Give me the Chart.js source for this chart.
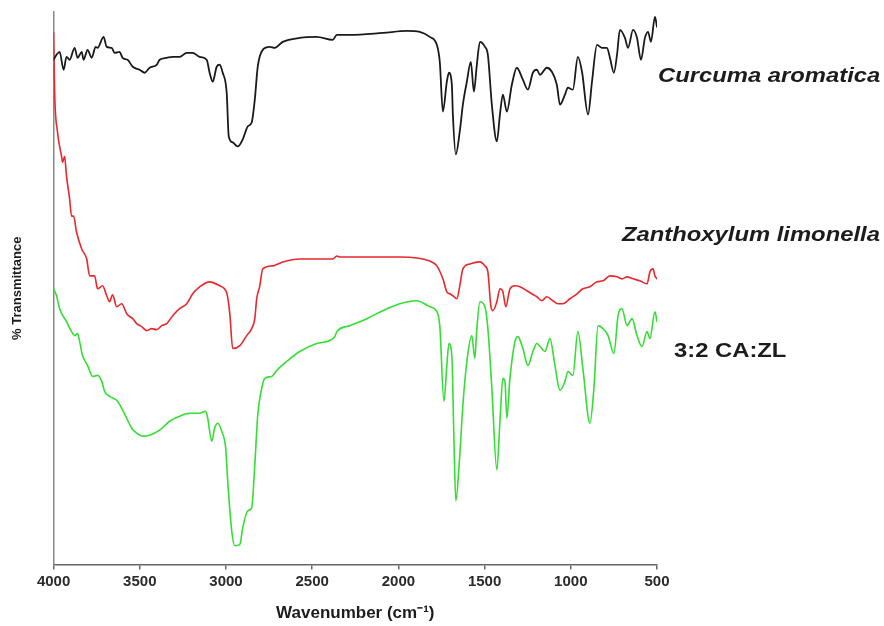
<!DOCTYPE html>
<html>
<head>
<meta charset="utf-8">
<title>FTIR spectra</title>
<script src="https://cdn.jsdelivr.net/npm/chart.js@4.4.1/dist/chart.umd.min.js"></script>
<style>
  html, body { margin: 0; padding: 0; background: #fff; }
  #wrap { width: 884px; height: 626px; }
</style>
</head>
<body>
<div id="wrap"><canvas id="ftirChart" width="884" height="626"></canvas></div>
<script>
// Datos (unidades arbitrarias de % transmitancia, curvas desplazadas)

// Curcuma aromatica
const caWavenumber = [4000,3983,3965,3942,3925,3907,3878,3861,3837,3826,3803,3779,3756,3745,3710,3692,3663,3646,3617,3600,
    3571,3541,3501,3472,3443,3402,3385,3344,3309,3269,3228,3193,3153,3112,3095,3077,3054,3037,3019,2996,
    2984,2961,2932,2903,2874,2851,2833,2816,2787,2746,2717,2671,2572,2474,2381,2357,2282,2090,1951,1876,
    1818,1777,1760,1742,1719,1707,1690,1684,1667,1644,1626,1603,1580,1562,1545,1527,1498,1481,1458,1429,
    1411,1394,1371,1342,1313,1278,1249,1220,1197,1179,1139,1110,1081,1063,1034,1017,988,959,935,900,
    877,848,819,790,773,750,732,715,686,668,639,616,593,570,552,535,512,500];
const caValue = [507,512,515,497,510,507,519,509,515,507,517,509,520,519,530,520,519,514,515,509,
    507,500,497,494,499,502,507,509,510,510,514,514,510,507,494,485,500,502,494,474,
    430,424,420,427,440,444,467,500,517,520,519,525,529,530,527,532,532,534,536,535,
    530,522,505,455,485,494,482,452,412,435,462,485,505,475,502,525,520,512,462,425,
    452,472,455,482,499,487,477,494,497,492,499,495,482,462,472,479,477,510,495,452,
    485,522,519,519,509,494,512,537,529,519,537,529,507,529,535,525,550,540];

// Zanthoxylum limonella
const zlWavenumber = [4000,3994,3977,3954,3948,3936,3925,3907,3896,3884,3867,3837,3808,3791,3762,3745,3716,3692,3675,3658,
    3634,3605,3576,3541,3518,3489,3460,3431,3402,3373,3344,3309,3269,3228,3193,3153,3095,3037,2996,2978,
    2961,2920,2880,2851,2833,2822,2804,2787,2729,2671,2572,2474,2381,2357,2340,2183,1992,1818,1777,1742,
    1719,1702,1684,1661,1644,1626,1586,1527,1498,1481,1464,1452,1429,1411,1394,1377,1353,1324,1295,1255,
    1226,1197,1168,1139,1104,1075,1046,1005,964,930,889,848,813,773,732,703,674,639,599,558,
    541,523,512,500];
const zlValue = [534,474,434,410,404,410,390,367,350,350,334,317,307,290,290,277,280,270,264,271,
    259,262,252,247,242,239,235,237,236,240,242,250,257,262,272,279,284,280,273,252,
    217,220,230,237,247,267,280,297,300,304,307,307,307,310,309,309,309,305,300,287,
    274,272,270,267,280,297,302,304,300,294,260,255,264,277,274,259,277,280,279,275,
    272,269,265,269,265,262,262,267,272,277,279,284,285,290,289,287,289,287,285,282,
    294,297,290,287];

// Mezcla 3:2 CA:ZL
const mixWavenumber = [4000,3983,3965,3925,3896,3878,3861,3849,3832,3803,3774,3745,3721,3704,3675,3634,3605,3576,3547,3518,
    3483,3443,3385,3327,3269,3211,3153,3118,3106,3083,3066,3048,3025,3002,2990,2967,2949,2920,2903,2874,
    2851,2833,2816,2793,2775,2735,2706,2648,2572,2474,2398,2369,2357,2282,2183,2090,1992,1893,1818,1777,
    1760,1736,1719,1707,1690,1678,1667,1644,1626,1603,1574,1557,1545,1527,1498,1481,1458,1429,1411,1394,
    1382,1371,1353,1324,1307,1278,1249,1220,1197,1179,1150,1121,1092,1063,1034,1017,988,959,930,889,
    866,842,813,784,750,726,703,674,645,616,587,558,541,512,500];
const mixValue = [277,270,257,244,234,230,232,224,210,200,189,190,184,174,169,165,157,147,137,132,
    129,130,135,144,149,152,152,154,147,124,137,142,134,117,84,34,19,20,37,54,
    57,100,150,177,187,189,195,204,214,222,225,229,234,240,247,255,262,265,259,254,
    240,164,200,222,210,127,64,110,160,204,230,207,237,264,259,237,177,95,144,187,
    184,147,187,224,229,217,200,214,222,219,214,227,200,175,184,194,190,234,197,142,
    177,240,237,230,212,250,257,240,247,230,219,234,227,254,244];

const seriesNames = ['Curcuma aromatica', 'Zanthoxylum limonella', '3:2 CA:ZL'];
const xTicks = [4000, 3500, 3000, 2500, 2000, 1500, 1000, 500];

const FONT = '"Liberation Sans", Arial, Helvetica, sans-serif';

function toPoints(xs, ys) {
    return xs.map((x, i) => ({ x: x, y: ys[i] }));
}

// Etiquetas de cada curva a la derecha del gráfico
const seriesLabelPlugin = {
    id: 'seriesLabels',
    afterDatasetsDraw(chart, args, opts) {
        const { ctx, chartArea } = chart;
        const y = chart.scales.y;
        ctx.save();
        ctx.fillStyle = '#1c1c1c';
        ctx.textBaseline = 'alphabetic';
        ctx.textAlign = 'left';
        opts.items.forEach(item => {
            ctx.save();
            ctx.font = item.font;
            ctx.translate(chartArea.right + item.dx, y.getPixelForValue(item.at));
            ctx.scale(1.19, 1);
            ctx.fillText(item.text, 0, 0);
            ctx.restore();
        });
        ctx.restore();
    }
};

const ftirChart = new Chart(document.getElementById('ftirChart'), {
    type: 'line',
    data: {
        datasets: [
            {
                label: seriesNames[0],
                data: toPoints(caWavenumber, caValue),
                borderColor: '#1a1a1a',
                borderWidth: 1.8
            },
            {
                label: seriesNames[1],
                data: toPoints(zlWavenumber, zlValue),
                borderColor: 'rgb(232, 40, 44)',
                borderWidth: 1.6
            },
            {
                label: seriesNames[2],
                data: toPoints(mixWavenumber, mixValue),
                borderColor: 'rgb(52, 222, 52)',
                borderWidth: 1.6
            }
        ]
    },
    options: {
        responsive: false,
        animation: false,
        devicePixelRatio: 1,
        layout: {
            padding: { left: 2, right: 227, top: 12, bottom: 2 }
        },
        elements: {
            point: { radius: 0 },
            line: { cubicInterpolationMode: 'monotone', borderJoinStyle: 'round', borderCapStyle: 'round' }
        },
        plugins: {
            legend: { display: false },
            tooltip: { enabled: false },
            seriesLabels: {
                items: [
                    { text: seriesNames[0], dx: 1, at: 485, font: 'italic bold 20px ' + FONT },
                    { text: seriesNames[1], dx: -35, at: 325, font: 'italic bold 20px ' + FONT },
                    { text: seriesNames[2], dx: 17, at: 209, font: 'bold 20px ' + FONT }
                ]
            }
        },
        scales: {
            x: {
                type: 'linear',
                reverse: true,
                min: 500,
                max: 4000,
                afterBuildTicks: scale => {
                    scale.ticks = xTicks.map(v => ({ value: v }));
                },
                ticks: {
                    color: '#2a2a2a',
                    font: { family: FONT, size: 15, weight: 'bold' },
                    padding: 3,
                    maxRotation: 0,
                    callback: v => String(v)
                },
                grid: {
                    display: true,
                    drawOnChartArea: false,
                    drawTicks: true,
                    tickLength: 5,
                    color: '#666',
                    lineWidth: 1.5
                },
                border: { display: true, color: '#666', width: 1.5 },
                title: {
                    display: true,
                    text: 'Wavenumber (cm\u207B\u00B9)',
                    color: '#1c1c1c',
                    font: { family: FONT, size: 17, weight: 'bold' },
                    padding: { top: 10, bottom: 0 }
                }
            },
            y: {
                type: 'linear',
                min: 0,
                max: 555,
                ticks: { display: false },
                grid: { display: false, drawTicks: false },
                border: { display: true, color: '#888', width: 1.5 },
                title: {
                    display: true,
                    text: '% Transmittance',
                    color: '#1c1c1c',
                    font: { family: FONT, size: 13, weight: 'bold' },
                    padding: { top: 8, bottom: 28 }
                }
            }
        }
    },
    plugins: [seriesLabelPlugin]
});
</script>
</body>
</html>
